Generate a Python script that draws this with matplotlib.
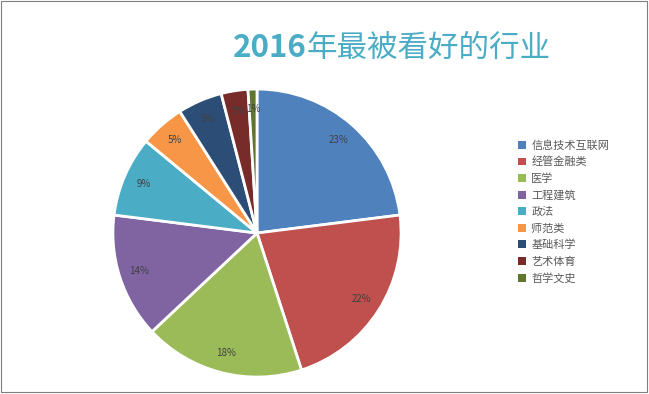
import matplotlib
matplotlib.use('Agg')
import matplotlib.pyplot as plt
from matplotlib.patches import Rectangle

plt.rcParams['font.family'] = ['Noto Sans CJK SC', 'DejaVu Sans']

categories = ['信息技术互联网', '经管金融类', '医学', '工程建筑', '政法',
              '师范类', '基础科学', '艺术体育', '哲学文史']
shares = [23, 22, 18, 14, 9, 5, 5, 3, 1]
colors = ['#4F81BD', '#C0504D', '#9BBB59', '#8064A2', '#4BACC6',
          '#F79646', '#2C4D75', '#772C2A', '#5F7530']

fig = plt.figure(figsize=[6.49, 3.94], dpi=100)
fig.patch.set_facecolor('white')

# pie axes, centred at about (257, 233) px with radius ~144 px
ax = fig.add_axes([0.174, 0.043, 0.444, 0.731])
wedges, texts, autotexts = ax.pie(
    shares, colors=colors, startangle=90, counterclock=False,
    autopct=lambda p: '%.0f%%' % round(p), pctdistance=0.86,
    wedgeprops=dict(edgecolor='white', linewidth=2),
    textprops=dict(fontsize=7, color='#404040'))
ax.set_xlim(-1, 1)
ax.set_ylim(-1, 1)
ax.set_aspect('auto')
ax.axis('off')

# title: bold digits, lighter chinese part
t1 = fig.text(233 / 649, 1 - 57 / 394, '2016', fontsize=22.5, weight='bold',
              color='#4BACC6', ha='left', va='baseline')
fig.canvas.draw()
ax.annotate('年最被看好的行业', xy=(1, 0), xycoords=t1, fontsize=22,
            color='#4BACC6', ha='left', va='bottom', annotation_clip=False)

leg = fig.legend(wedges, categories, loc='upper left',
                 bbox_to_anchor=(508 / 649, 1 - 130 / 394), frameon=False,
                 prop=dict(size=8), labelcolor='#595959',
                 handlelength=0.7, handleheight=0.7, handletextpad=0.5,
                 labelspacing=0.55)
for h in leg.legend_handles:
    h.set_edgecolor('none')

# thin outer frame like the reference screenshot
fig.patches.append(Rectangle((0.0015, 0.006), 0.995, 0.992, transform=fig.transFigure,
                             fill=False, edgecolor='#7f7f7f', linewidth=0.8))

fig.savefig('out.png', dpi=100)
